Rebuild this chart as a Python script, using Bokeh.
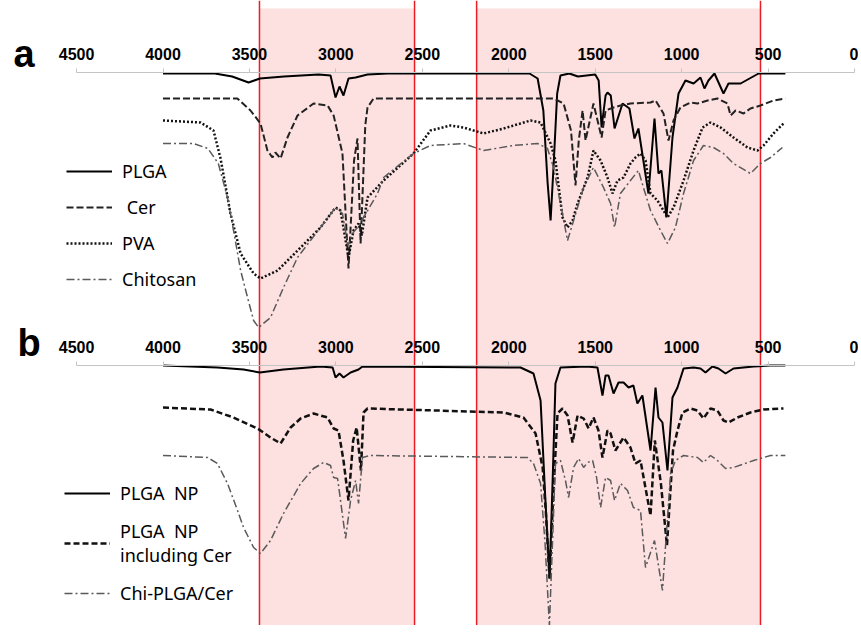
from bokeh.plotting import figure
from bokeh.models import (Range1d, LinearAxis, FixedTicker, BoxAnnotation, Span,
                          Legend, LegendItem, Label)
from bokeh.embed import file_html
from bokeh.resources import INLINE

# ---------------- data (wavenumber cm-1, offset transmittance a.u.) ----------------
ticks = [4500, 4000, 3500, 3000, 2500, 2000, 1500, 1000, 500, 0]
band_left = [3442, 2186]
band_right = [2545, 544]

# panel a
plga_w = [4000, 3700, 3600, 3505, 3440, 3300, 3100, 3031, 3002, 2979, 2956, 2927, 2886, 2817, 2700,
          1880, 1833, 1800, 1775, 1758, 1740, 1720, 1701, 1650, 1600, 1500, 1480, 1463, 1440, 1429,
          1410, 1388, 1342, 1302, 1273, 1250, 1192, 1157, 1134, 1117, 1088, 1053, 1018, 978, 931,
          891, 868, 845, 810, 758, 729, 659, 555, 400]
plga_t = [560, 560, 557, 551, 555, 557, 559, 558, 536, 547, 538, 555, 556, 559, 560,
          560, 555, 523, 450, 413, 470, 540, 558, 560, 557, 559, 553, 506, 538, 541,
          538, 505, 530, 525, 495, 505, 440, 515, 460, 463, 416, 496, 540, 553, 550,
          556, 545, 553, 560, 540, 550, 550, 560, 560]

cer_w = [4000, 3570, 3494, 3436, 3396, 3367, 3350, 3320, 3280, 3222, 3129, 3048, 3013, 2962, 2927,
         2895, 2875, 2857, 2830, 2817, 2782, 1740, 1683, 1640, 1614, 1595, 1573, 1556, 1510, 1463,
         1440, 1394, 1354, 1296, 1180, 1151, 1105, 1076, 1047, 1007, 949, 908, 850, 793, 735, 717,
         688, 642, 602, 544, 469, 400]
cer_t = [535, 535, 523, 510, 483, 476, 481, 475, 496, 518, 530, 528, 518, 480, 365,
         473, 495, 390, 508, 526, 535, 535, 530, 503, 448, 493, 523, 493, 530, 496,
         523, 526, 528, 530, 531, 533, 520, 493, 513, 526, 531, 530, 533, 535, 530, 518,
         523, 520, 525, 528, 533, 535]

pva_w = [4000, 3783, 3708, 3667, 3610, 3551, 3476, 3436, 3337, 3204, 3089, 3002, 2973, 2927, 2898,
         2869, 2850, 2817, 2724, 2551, 2453, 2337, 2262, 2146, 2030, 1874, 1816, 1758, 1730, 1689,
         1660, 1631, 1602, 1544, 1510, 1469, 1429, 1400, 1371, 1336, 1296, 1267, 1238, 1209, 1180,
         1140, 1105, 1082, 1047, 989, 931, 879, 833, 775, 700, 619, 561, 526, 469, 405]
pva_t = [513, 511, 503, 475, 420, 380, 360, 355, 363, 386, 406, 426, 423, 376, 403,
         410, 398, 436, 453, 480, 503, 508, 506, 500, 505, 513, 511, 490, 473, 416,
         406, 413, 430, 456, 483, 473, 456, 440, 453, 456, 470, 476, 480, 473, 440,
         433, 423, 416, 426, 453, 483, 506, 511, 506, 496, 486, 483, 488, 500, 511]

chi_w = [4000, 3823, 3740, 3680, 3627, 3592, 3551, 3511, 3476, 3447, 3378, 3303, 3222, 3147, 3071,
         3002, 2962, 2930, 2900, 2875, 2840, 2759, 2724, 2551, 2453, 2262, 2146, 1973, 1833, 1776,
         1741, 1701, 1660, 1625, 1567, 1510, 1452, 1411, 1388, 1354, 1296, 1250, 1221, 1180, 1122,
         1082, 1036, 989, 931, 874, 816, 758, 700, 602, 544, 486, 417]
chi_t = [490, 490, 485, 470, 436, 403, 363, 336, 313, 306, 316, 346, 376, 393, 410,
         426, 420, 388, 401, 406, 416, 440, 456, 480, 488, 490, 483, 488, 490, 485,
         466, 430, 393, 413, 446, 466, 446, 430, 406, 440, 453, 463, 446, 423, 403,
         390, 406, 440, 473, 488, 486, 480, 470, 460, 470, 476, 486]

# panel b
np_w = [4000, 3685, 3534, 3440, 3303, 3089, 3019, 3002, 2979, 2956, 2915, 2869, 2846, 1932, 1857,
        1816, 1790, 1764, 1745, 1730, 1701, 1550, 1487, 1458, 1440, 1423, 1394, 1365, 1336, 1307,
        1279, 1256, 1227, 1180, 1151, 1134, 1111, 1082, 1053, 1024, 989, 931, 891, 862, 822, 787,
        746, 700, 584, 486, 400]
np_t = [268, 266, 264, 261, 264, 267, 266, 256, 260, 256, 261, 264, 267, 266, 260,
        233, 140, 55, 160, 250, 266, 267, 266, 238, 258, 258, 240, 251, 251, 246,
        248, 230, 238, 183, 246, 216, 211, 163, 236, 246, 265, 266, 265, 261, 267, 265,
        260, 265, 267, 268, 268]

npc_w = [4000, 3725, 3592, 3453, 3378, 3320, 3262, 3204, 3129, 3048, 3013, 2985, 2956, 2927, 2900,
         2880, 2855, 2840, 2817, 2030, 1915, 1845, 1804, 1785, 1764, 1745, 1718, 1689, 1660, 1631,
         1602, 1567, 1538, 1510, 1481, 1458, 1429, 1411, 1383, 1336, 1296, 1267, 1238, 1180, 1155,
         1120, 1085, 1050, 1024, 995, 949, 908, 874, 833, 793, 758, 729, 677, 602, 526, 411]
npc_t = [226, 224, 216, 205, 196, 190, 206, 215, 220, 216, 205, 203, 173, 133, 193,
         206, 163, 221, 225, 221, 216, 200, 166, 120, 55, 130, 220, 225, 218, 191,
         218, 215, 205, 216, 203, 176, 203, 200, 183, 196, 186, 170, 173, 118, 193,
         150, 88, 183, 203, 221, 225, 223, 215, 225, 223, 213, 211, 216, 221, 224, 225]

chic_w = [4000, 3742, 3685, 3627, 3569, 3534, 3476, 3436, 3378, 3303, 3204, 3129, 3071, 3031, 3013,
          2990, 2944, 2915, 2886, 2869, 2846, 2800, 1892, 1857, 1816, 1790, 1765, 1745, 1730, 1701,
          1672, 1654, 1625, 1596, 1567, 1544, 1515, 1492, 1469, 1440, 1411, 1388, 1354, 1313, 1279,
          1238, 1209, 1157, 1111, 1064, 1036, 989, 908, 874, 833, 793, 746, 700, 584, 526, 486, 400]
chic_t = [178, 176, 170, 150, 123, 106, 86, 80, 93, 120, 150, 165, 171, 168, 156,
          155, 95, 133, 153, 130, 176, 178, 176, 170, 150, 90, 8, 100, 170, 173,
          153, 136, 166, 175, 166, 171, 173, 156, 126, 156, 153, 133, 150, 143, 126,
          123, 66, 93, 43, 160, 173, 178, 176, 171, 178, 173, 165, 166, 173, 176, 178, 178]

# ---------------- figure ----------------
p = figure(width=858, height=625, output_backend="svg", toolbar_location=None,
           x_range=Range1d(4940, -23), y_range=Range1d(8, 633),
           x_axis_location=None, y_axis_location=None, min_border=0)
p.outline_line_color = None
p.xgrid.visible = False
p.ygrid.visible = False
p.background_fill_color = "white"

for l, r in zip(band_left, band_right):
    p.add_layout(BoxAnnotation(left=r, right=l, top=625, fill_color="#fde0e0", fill_alpha=1.0,
                               line_color=None, level="underlay"))
    for xv in (l, r):
        p.add_layout(Span(location=xv, dimension="height", line_color="#ec1c24",
                          line_width=1.5, level="underlay"))

def make_axis(loc):
    ax = LinearAxis(fixed_location=loc, ticker=FixedTicker(ticks=ticks), bounds=(0, 4500))
    ax.axis_line_color = "#c4c4c4"
    ax.major_tick_line_color = "#c4c4c4"
    ax.major_tick_out = 4
    ax.major_tick_in = 0
    ax.minor_tick_line_color = None
    ax.major_label_text_font = "Liberation Sans"
    ax.major_label_text_font_style = "bold"
    ax.major_label_text_font_size = "16px"
    ax.major_label_text_color = "black"
    ax.major_label_standoff = 9
    return ax

p.add_layout(make_axis(561), "above")
p.add_layout(make_axis(268), "above")

r1 = p.line(plga_w, plga_t, line_color="black", line_width=2)
r2 = p.line(cer_w, cer_t, line_color="#222222", line_width=2, line_dash="7 3")
r3 = p.line(pva_w, pva_t, line_color="#111111", line_width=2.5, line_dash="2 2")
r4 = p.line(chi_w, chi_t, line_color="#5a5a5a", line_width=1.5, line_dash="8 3 2 3")

r5 = p.line(np_w, np_t, line_color="black", line_width=2)
r6 = p.line(npc_w, npc_t, line_color="#111111", line_width=2.5, line_dash="6 3")
r7 = p.line(chic_w, chic_t, line_color="#5a5a5a", line_width=1.5, line_dash="8 3 2 3")

def style_legend(lg):
    lg.background_fill_alpha = 0
    lg.border_line_color = None
    lg.label_text_font = "Noto Sans"
    lg.label_text_font_size = "18px"
    lg.label_text_color = "black"
    lg.glyph_width = 46
    lg.glyph_height = 20
    lg.label_height = 20
    lg.label_standoff = 10
    lg.padding = 0
    lg.margin = 0

leg_a = Legend(items=[LegendItem(label="PLGA", renderers=[r1]),
                      LegendItem(label="\u00a0Cer", renderers=[r2]),
                      LegendItem(label="PVA", renderers=[r3]),
                      LegendItem(label="Chitosan", renderers=[r4])],
               location=(66, 334))
style_legend(leg_a)
leg_a.spacing = 12
p.add_layout(leg_a)

leg_b = Legend(items=[LegendItem(label="PLGA  NP", renderers=[r5]),
                      LegendItem(label="PLGA  NP\nincluding Cer", renderers=[r6]),
                      LegendItem(label="Chi-PLGA/Cer", renderers=[r7])],
               location=(64, 20))
style_legend(leg_b)
leg_b.spacing = 14
p.add_layout(leg_b)

for txt, xs, ys in (("a", 13, 572), ("b", 17, 283)):
    p.add_layout(Label(x=xs, y=ys, x_units="screen", y_units="screen", text=txt,
                       text_font="Liberation Sans", text_font_style="bold",
                       text_font_size="38px", text_baseline="alphabetic", text_color="black"))

open("out.html", "w").write(file_html(p, INLINE))
